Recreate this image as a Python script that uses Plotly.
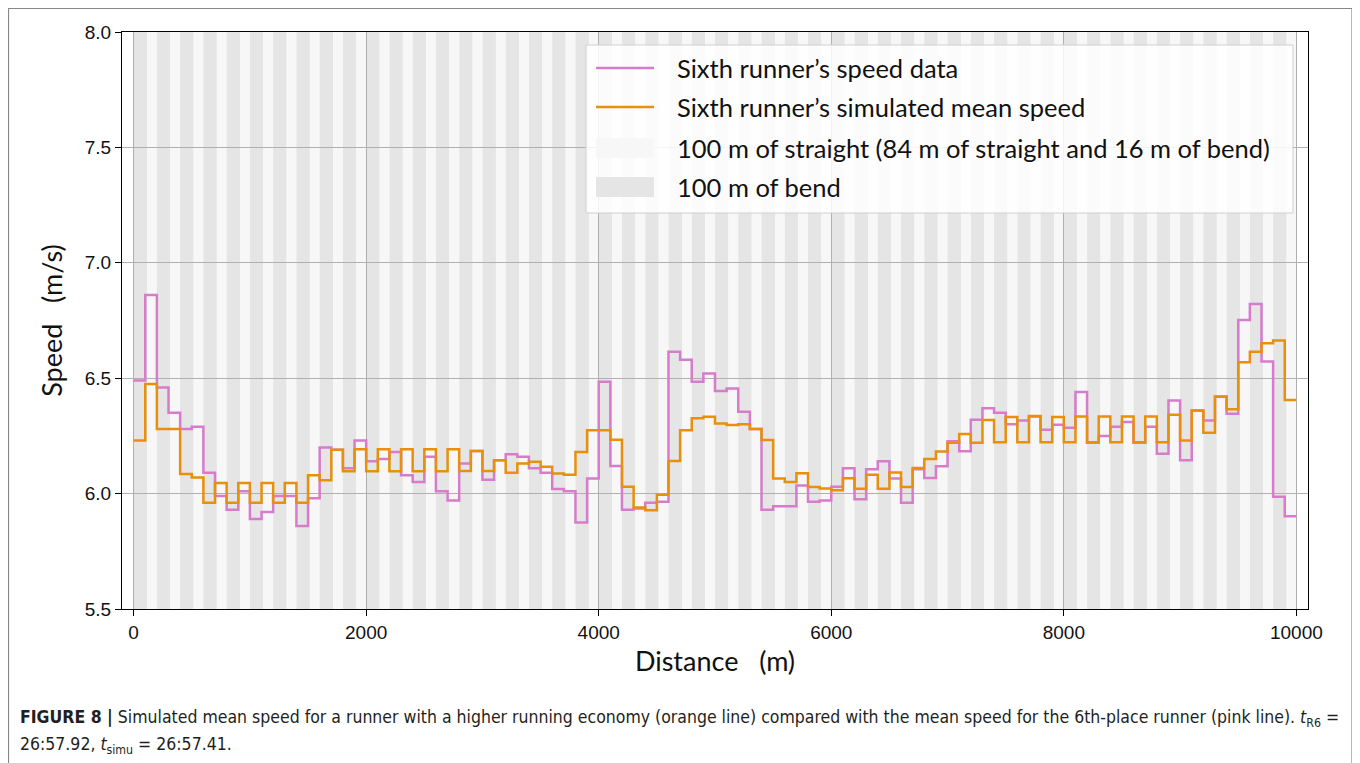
import plotly.graph_objects as go

# mean speed per 100 m segment (m/s), segment starts at 0, 100, ..., 9900
seg_start = list(range(0, 10000, 100))
race_end = 10000

speed_data = [
    6.49, 6.86, 6.46, 6.35, 6.28, 6.29, 6.09, 5.99, 5.93, 6.01,
    5.89, 5.92, 5.99, 5.99, 5.86, 5.98, 6.20, 6.19, 6.11, 6.23,
    6.14, 6.15, 6.18, 6.08, 6.05, 6.16, 6.01, 5.97, 6.13, 6.185,
    6.06, 6.145, 6.17, 6.16, 6.11, 6.09, 6.02, 6.01, 5.875, 6.065,
    6.485, 6.12, 5.93, 5.935, 5.96, 5.965, 6.615, 6.58, 6.485, 6.52,
    6.445, 6.455, 6.355, 6.28, 5.93, 5.945, 5.945, 6.035, 5.965, 5.97,
    6.03, 6.11, 5.975, 6.105, 6.14, 6.065, 5.96, 6.105, 6.068, 6.118,
    6.227, 6.184, 6.32, 6.37, 6.35, 6.30, 6.317, 6.334, 6.277, 6.298,
    6.285, 6.44, 6.22, 6.25, 6.29, 6.31, 6.22, 6.29, 6.173, 6.403,
    6.144, 6.36, 6.317, 6.42, 6.346, 6.752, 6.821, 6.572, 5.986, 5.902,
]

speed_simu = [
    6.23, 6.475, 6.28, 6.28, 6.085, 6.07, 5.96, 6.046, 5.96, 6.046,
    5.96, 6.046, 5.96, 6.046, 5.96, 6.08, 6.058, 6.19, 6.097, 6.192,
    6.097, 6.192, 6.097, 6.192, 6.097, 6.192, 6.097, 6.192, 6.098, 6.185,
    6.098, 6.145, 6.09, 6.13, 6.138, 6.116, 6.087, 6.082, 6.18, 6.275,
    6.275, 6.233, 6.03, 5.94, 5.928, 5.995, 6.141, 6.275, 6.326, 6.333,
    6.304, 6.297, 6.30, 6.28, 6.232, 6.065, 6.05, 6.088, 6.029, 6.022,
    6.014, 6.067, 6.021, 6.082, 6.021, 6.091, 6.029, 6.111, 6.15, 6.182,
    6.22, 6.258, 6.22, 6.319, 6.222, 6.332, 6.222, 6.336, 6.222, 6.332,
    6.222, 6.334, 6.222, 6.334, 6.222, 6.334, 6.222, 6.334, 6.223, 6.342,
    6.23, 6.36, 6.264, 6.421, 6.365, 6.569, 6.615, 6.651, 6.663, 6.406,
]

labels = [
    "Sixth runner\u2019s speed data",
    "Sixth runner\u2019s simulated mean speed",
    "100 m of straight (84 m of straight and 16 m of bend)",
    "100 m of bend",
]
x_ticks = [0, 2000, 4000, 6000, 8000, 10000]
y_ticks = [5.5, 6.0, 6.5, 7.0, 7.5, 8.0]

PINK = "#d77ccb"
ORANGE = "#e8900c"
BEND = "#e5e5e5"
STRAIGHT = "#f7f7f7"
LABEL_FONT = "Lato, 'Open Sans', sans-serif"

# page has an 8 px body margin, so the figure is drawn 8 px smaller and shifted
OFF = 8
W, H = 1360 - OFF, 763 - OFF
# plot area in screen pixels
L, R, T, B = 122, 1308, 32, 609


def px(x):
    return (x - L) / (R - L)


def py(y):
    return (B - y) / (B - T)


x_steps = seg_start + [race_end]

fig = go.Figure()
fig.add_trace(go.Scatter(
    x=x_steps, y=speed_data + [speed_data[-1]],
    mode="lines", line=dict(color=PINK, width=2.5, shape="hv"),
    showlegend=False,
))
fig.add_trace(go.Scatter(
    x=x_steps, y=speed_simu + [speed_simu[-1]],
    mode="lines", line=dict(color=ORANGE, width=2.5, shape="hv"),
    showlegend=False,
))

shapes = []
# bend / straight bands (116 m bend then 84 m straight)
for lap_start in range(0, race_end, 200):
    shapes.append(dict(type="rect", xref="x", yref="paper", x0=lap_start, x1=lap_start + 116,
                       y0=0, y1=1, fillcolor=BEND, line_width=0, layer="below"))
    shapes.append(dict(type="rect", xref="x", yref="paper", x0=lap_start + 116, x1=lap_start + 200,
                       y0=0, y1=1, fillcolor=STRAIGHT, line_width=0, layer="below"))

# legend box
shapes.append(dict(type="rect", xref="paper", yref="paper", x0=px(586), x1=px(1293),
                   y0=py(213), y1=py(45), fillcolor="rgba(255,255,255,0.85)",
                   line=dict(color="#d0d0d0", width=1)))
legend_y = [68, 107, 148, 187]
shapes.append(dict(type="line", xref="paper", yref="paper", x0=px(596), x1=px(654),
                   y0=py(legend_y[0]), y1=py(legend_y[0]), line=dict(color=PINK, width=2.5)))
shapes.append(dict(type="line", xref="paper", yref="paper", x0=px(596), x1=px(654),
                   y0=py(legend_y[1]), y1=py(legend_y[1]), line=dict(color=ORANGE, width=2.5)))
shapes.append(dict(type="rect", xref="paper", yref="paper", x0=px(596), x1=px(654),
                   y0=py(legend_y[2] + 10), y1=py(legend_y[2] - 10), fillcolor=STRAIGHT, line_width=0))
shapes.append(dict(type="rect", xref="paper", yref="paper", x0=px(596), x1=px(654),
                   y0=py(legend_y[3] + 10), y1=py(legend_y[3] - 10), fillcolor=BEND, line_width=0))

# outer frame of the figure panel (bottom edge lies below the window)
shapes.append(dict(type="rect", xref="paper", yref="paper", x0=px(8.5), x1=px(1352),
                   y0=py(775), y1=py(8.5), line=dict(color="#888888", width=1.2)))

annotations = []
for lab, yy in zip(labels, legend_y):
    annotations.append(dict(text=lab, xref="paper", yref="paper", x=px(675), y=py(yy),
                            xanchor="left", yanchor="middle", showarrow=False,
                            font=dict(family=LABEL_FONT, size=25.5, color="#111111")))

cap_font = dict(family="'Liberation Sans Narrow', 'DejaVu Sans Condensed', 'Arial Narrow', sans-serif",
                size=17.5, color="#231f20")
annotations.append(dict(
    text="<b>FIGURE 8 |</b> Simulated mean speed for a runner with a higher running economy (orange line) "
         "compared with the mean speed for the 6th-place runner (pink line). <i>t</i><sub>R6</sub> =",
    xref="paper", yref="paper", x=px(18), y=py(718), xanchor="left", yanchor="middle",
    showarrow=False, font=cap_font))
annotations.append(dict(
    text="26:57.92, <i>t</i><sub>simu</sub> = 26:57.41.",
    xref="paper", yref="paper", x=px(18), y=py(745), xanchor="left", yanchor="middle",
    showarrow=False, font=cap_font))

axis_common = dict(
    showline=True, mirror=True, linecolor="black", linewidth=1.3,
    ticks="outside", ticklen=6, tickwidth=1.3, tickcolor="black",
    showgrid=True, gridcolor="#b0b0b0", gridwidth=1.4, zeroline=False,
    tickfont=dict(family="'Liberation Sans', Arial, sans-serif", size=19, color="#111111"),
)

fig.update_layout(
    width=W, height=H,
    margin=dict(l=L - OFF, r=1360 - R, t=T - OFF, b=763 - B),
    paper_bgcolor="white", plot_bgcolor="white",
    showlegend=False,
    shapes=shapes,
    annotations=annotations,
    xaxis=dict(range=[-100, 10100], tickvals=x_ticks, ticktext=[str(v) for v in x_ticks],
               title=dict(text="Distance\u00a0\u00a0\u00a0(m)", standoff=10,
                          font=dict(family=LABEL_FONT, size=27, color="#111111")),
               **axis_common),
    yaxis=dict(range=[5.5, 8.0], tickvals=y_ticks, ticktext=[f"{v:.1f}" for v in y_ticks],
               title=dict(text="Speed\u00a0\u00a0\u00a0(m/s)", standoff=14,
                          font=dict(family=LABEL_FONT, size=27, color="#111111")),
               **axis_common),
)

fig.write_html("out.html")
